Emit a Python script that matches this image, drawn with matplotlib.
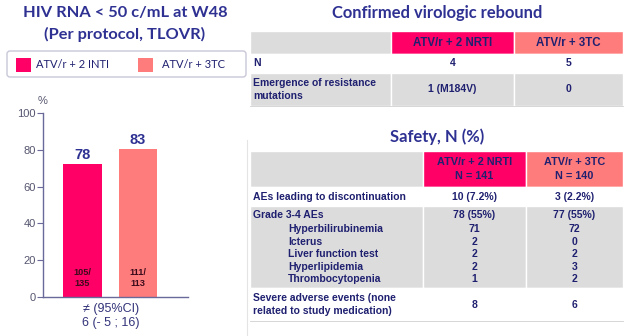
import matplotlib
matplotlib.use("Agg")
import matplotlib.pyplot as plt
import numpy as np
from matplotlib.patches import Rectangle, FancyBboxPatch

NAVY = "#2E3192"
TXT = "#1F2070"
MAGENTA = "#FF0066"
SALMON = "#FF7C7C"
GRAY = "#DCDCDC"

# left panel: bar chart
ARMS = ["ATV/r + 2 INTI", "ATV/r + 3TC"]
BAR_HEIGHTS = [72.5, 80.5]
BAR_LABELS = ["78", "83"]
BAR_COUNTS = ["105/\n135", "111/\n113"]
CI_TEXT = "\u2260 (95%CI)\n6 (- 5 ; 16)"

# table 1: confirmed virologic rebound
T1_HEAD = ["", "ATV/r + 2 NRTI", "ATV/r + 3TC"]
T1_ROWS = [["N", "4", "5"],
           ["Emergence of resistance\nmutations", "1 (M184V)", "0"]]

# table 2: safety
T2_HEAD = ["", "ATV/r + 2 NRTI\nN = 141", "ATV/r + 3TC\nN = 140"]
T2_DISC = ["AEs leading to discontinuation", "10 (7.2%)", "3 (2.2%)"]
T2_GRADE = ["Grade 3-4 AEs", "78 (55%)", "77 (55%)"]
T2_SUB = ["Hyperbilirubinemia", "Icterus", "Liver function test",
          "Hyperlipidemia", "Thrombocytopenia"]
T2_SUB_A = ["71", "2", "2", "2", "1"]
T2_SUB_B = ["72", "0", "2", "3", "2"]
T2_SAE = ["Severe adverse events (none\nrelated to study medication)", "8", "6"]

W, H = 628, 336
fig = plt.figure(figsize=(W / 100, H / 100), dpi=100)
ov = fig.add_axes([0, 0, 1, 1])
ov.set_xlim(0, W)
ov.set_ylim(H, 0)
ov.axis("off")

ARIAL = ["Liberation Sans", "DejaVu Sans"]
TITLE_FONT = dict(family=["Lato", "DejaVu Sans"], fontweight="bold", color=NAVY)
CELL_FONT = dict(family=ARIAL, fontweight="bold", color=TXT)

# titles
ov.text(125, 13, "HIV RNA < 50 c/mL at W48", ha="center", va="center", fontsize=11.8, **TITLE_FONT)
ov.text(125, 34, "(Per protocol, TLOVR)", ha="center", va="center", fontsize=11.8, **TITLE_FONT)
ov.text(437, 13, "Confirmed virologic rebound", ha="center", va="center", fontsize=11.9, **TITLE_FONT)
ov.text(437, 137, "Safety, N (%)", ha="center", va="center", fontsize=11.9, **TITLE_FONT)

# legend box
ov.add_patch(FancyBboxPatch((7, 51), 239, 26, boxstyle="round,pad=0,rounding_size=3",
                            fc="white", ec="#C8C8D8", lw=1.0))
ov.add_patch(Rectangle((16, 58), 15, 14, fc=MAGENTA, ec="none"))
ov.text(36, 65, ARMS[0], ha="left", va="center", fontsize=8, family=["Lato", "DejaVu Sans"], color=TXT)
ov.add_patch(Rectangle((138, 58), 15, 14, fc=SALMON, ec="none"))
ov.text(162, 65, ARMS[1], ha="left", va="center", fontsize=8, family=["Lato", "DejaVu Sans"], color=TXT)

# separator line
ov.plot([247, 247], [140, 336], color="#E4E4E4", lw=0.8)

# bar chart
ax = fig.add_axes([43 / W, (H - 297) / H, 145 / W, 184 / H])
x = np.arange(len(ARMS))
bars = ax.bar(x, BAR_HEIGHTS, width=0.70, color=[MAGENTA, SALMON])
ax.set_xlim(-0.712, 1.90)
ax.set_ylim(0, 100)
ax.set_yticks([0, 20, 40, 60, 80, 100])
ax.set_xticks([])
for s in ["top", "right"]:
    ax.spines[s].set_visible(False)
for s in ["left", "bottom"]:
    ax.spines[s].set_color("#6A6A9A")
    ax.spines[s].set_linewidth(1.0)
ax.tick_params(axis="y", length=4, color="#6A6A9A", labelsize=8, labelcolor="#555570", pad=1)
for t in ax.get_yticklabels():
    t.set_family(ARIAL)
ax.text(0, 104, "%", transform=ax.get_yaxis_transform(), ha="center", va="bottom",
        fontsize=8, color="#555570", family=ARIAL)
for b, lab, cnt in zip(bars, BAR_LABELS, BAR_COUNTS):
    cx = b.get_x() + b.get_width() / 2
    ax.text(cx, b.get_height() + 1, lab, ha="center", va="bottom", fontsize=10.5,
            fontweight="bold", color=NAVY, family=ARIAL)
    ax.text(cx, 10.5, cnt, ha="center", va="center", fontsize=6.6, fontweight="bold",
            color="#3A0A1A", linespacing=1.25, family=ARIAL)
ax.text(0.47, -0.035, CI_TEXT, transform=ax.transAxes, ha="center", va="top", fontsize=9,
        color="#33337A", linespacing=1.2, family=ARIAL)


def cell(x0, x1, y0, y1, color):
    ov.add_patch(Rectangle((x0, y0), x1 - x0, y1 - y0, fc=color, ec="white", lw=1.0))


# table 1
c1 = [250, 391, 514, 623]
r1 = [31, 54, 73, 106]
for j, col in enumerate([GRAY, MAGENTA, SALMON]):
    cell(c1[j], c1[j + 1], r1[0], r1[1], col)
for i, rowcol in enumerate(["white", GRAY]):
    for j in range(3):
        cell(c1[j], c1[j + 1], r1[i + 1], r1[i + 2], rowcol)
ov.plot([c1[0], c1[-1]], [r1[-1], r1[-1]], color="#D0D0D0", lw=0.6)
for j in (1, 2):
    ov.text((c1[j] + c1[j + 1]) / 2, (r1[0] + r1[1]) / 2, T1_HEAD[j], ha="center", va="center",
            fontsize=8.3, **CELL_FONT)
for i, row in enumerate(T1_ROWS):
    ym = (r1[i + 1] + r1[i + 2]) / 2
    ov.text(c1[0] + 3, ym, row[0], ha="left", va="center", fontsize=7.5, linespacing=1.35, **CELL_FONT)
    for j in (1, 2):
        ov.text((c1[j] + c1[j + 1]) / 2, ym, row[j], ha="center", va="center", fontsize=7.5, **CELL_FONT)

# table 2
c2 = [250, 423, 526, 623]
r2 = [151, 187, 206, 288, 321]
for j, col in enumerate([GRAY, MAGENTA, SALMON]):
    cell(c2[j], c2[j + 1], r2[0], r2[1], col)
for i, rowcol in enumerate(["white", GRAY, "white"]):
    for j in range(3):
        cell(c2[j], c2[j + 1], r2[i + 1], r2[i + 2], rowcol)
ov.plot([c2[0], c2[-1]], [r2[-1], r2[-1]], color="#D0D0D0", lw=0.6)
for j in (1, 2):
    ov.text((c2[j] + c2[j + 1]) / 2, (r2[0] + r2[1]) / 2, T2_HEAD[j], ha="center", va="center",
            fontsize=7.8, linespacing=1.5, **CELL_FONT)

ym = (r2[1] + r2[2]) / 2
ov.text(c2[0] + 3, ym, T2_DISC[0], ha="left", va="center", fontsize=7.5, **CELL_FONT)
for j in (1, 2):
    ov.text((c2[j] + c2[j + 1]) / 2, ym, T2_DISC[j], ha="center", va="center", fontsize=7.5, **CELL_FONT)

yg = 215
ov.text(c2[0] + 3, yg, T2_GRADE[0], ha="left", va="center", fontsize=7.5, **CELL_FONT)
for j in (1, 2):
    ov.text((c2[j] + c2[j + 1]) / 2, yg, T2_GRADE[j], ha="center", va="center", fontsize=7.5, **CELL_FONT)
for k, (name, a, b) in enumerate(zip(T2_SUB, T2_SUB_A, T2_SUB_B)):
    yy = 229 + k * 12.6
    ov.text(288, yy, name, ha="left", va="center", fontsize=7.5, **CELL_FONT)
    ov.text((c2[1] + c2[2]) / 2, yy, a, ha="center", va="center", fontsize=7.5, **CELL_FONT)
    ov.text((c2[2] + c2[3]) / 2, yy, b, ha="center", va="center", fontsize=7.5, **CELL_FONT)

ym = (r2[3] + r2[4]) / 2
ov.text(c2[0] + 3, ym, T2_SAE[0], ha="left", va="center", fontsize=7.5, linespacing=1.4, **CELL_FONT)
for j in (1, 2):
    ov.text((c2[j] + c2[j + 1]) / 2, ym, T2_SAE[j], ha="center", va="center", fontsize=7.5, **CELL_FONT)

fig.savefig("out.png", dpi=100)
